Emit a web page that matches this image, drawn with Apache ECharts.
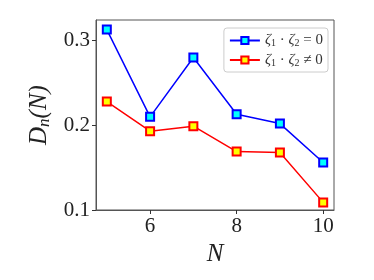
<!DOCTYPE html>
<html><head><meta charset="utf-8">
<script src="https://cdn.jsdelivr.net/npm/echarts@6/dist/echarts.min.js"></script>
<style>html,body{margin:0;padding:0;background:#fff}#c{width:374px;height:280px}</style>
</head><body><div id="c"></div>
<script>
var N = [5, 6, 7, 8, 9, 10];
var zeroVals = [0.313, 0.210, 0.280, 0.213, 0.202, 0.156];
var nonzeroVals = [0.228, 0.193, 0.199, 0.169, 0.168, 0.109];
var xTicks = [6, 8, 10];
var yTicks = [0.1, 0.2, 0.3];
var seriesNames = ['zero', 'nonzero'];

function pairs(xs, ys) { return xs.map(function (x, i) { return [x, ys[i]]; }); }
var serif = 'Liberation Serif';
var chart = echarts.init(document.getElementById('c'), null, {renderer: 'canvas'});
chart.setOption({
  animation: false,
  backgroundColor: '#fff',
  grid: {left: 96, right: 40, top: 20, bottom: 70, show: true, borderColor: '#555', borderWidth: 1},
  xAxis: {
    type: 'value', min: 4.75, max: 10.25,
    axisLine: {show: true, onZero: false, lineStyle: {color: '#555', width: 1}},
    axisTick: {show: true, customValues: xTicks, length: 4, lineStyle: {color: '#333'}},
    axisLabel: {customValues: xTicks, fontFamily: serif, fontSize: 21, color: '#222', margin: 6},
    splitLine: {show: false},
    name: 'N', nameLocation: 'middle', nameGap: 28,
    nameTextStyle: {fontFamily: serif, fontStyle: 'italic', fontSize: 25, color: '#222'}
  },
  yAxis: {
    type: 'value', min: 0.1, max: 0.3243,
    axisLine: {show: true, lineStyle: {color: '#555', width: 1}},
    axisTick: {show: true, customValues: yTicks, length: 4, lineStyle: {color: '#333'}},
    axisLabel: {customValues: yTicks, fontFamily: serif, fontSize: 21, color: '#222', margin: 6,
      formatter: function (v) { return v.toFixed(1); }},
    splitLine: {show: false},
    name: '{i|D}{s|n}{i|(N)}', nameLocation: 'middle', nameGap: 36, nameRotate: 90,
    nameTextStyle: {fontFamily: serif, fontSize: 25, color: '#222',
      rich: {
        i: {fontFamily: serif, fontStyle: 'italic', fontSize: 25, color: '#222'},
        s: {fontFamily: serif, fontStyle: 'italic', fontSize: 17, color: '#222', verticalAlign: 'bottom', padding: [9, 0, 0, 0]}
      }}
  },
  legend: {
    right: 46, top: 28, orient: 'vertical', itemGap: 4,
    itemWidth: 30, itemHeight: 9,
    backgroundColor: '#fff', borderColor: '#ccc', borderWidth: 1, borderRadius: 3,
    padding: [5, 5, 4, 5],
    data: seriesNames,
    formatter: function (name) {
      return name === 'zero' ? '{z|ζ}{s|1}{t| · }{z|ζ}{s|2}{t| = 0}' : '{z|ζ}{s|1}{t| · }{z|ζ}{s|2}{t| ≠ 0}';
    },
    textStyle: {
      fontFamily: serif, fontSize: 15, color: '#333',
      rich: {
        z: {fontFamily: serif, fontStyle: 'italic', fontSize: 15, color: '#333'},
        s: {fontFamily: serif, fontSize: 10, color: '#333', verticalAlign: 'bottom', padding: [6, 0, 0, 0]},
        t: {fontFamily: serif, fontSize: 15, color: '#333'}
      }
    }
  },
  series: [
    {name: 'zero', type: 'line', data: pairs(N, zeroVals), symbol: 'rect', symbolSize: 8,
      lineStyle: {color: '#0000ff', width: 1.5},
      itemStyle: {color: '#00ffff', borderColor: '#0000ff', borderWidth: 2}},
    {name: 'nonzero', type: 'line', data: pairs(N, nonzeroVals), symbol: 'rect', symbolSize: 8,
      lineStyle: {color: '#ff0000', width: 1.5},
      itemStyle: {color: '#ffff00', borderColor: '#ff0000', borderWidth: 2}}
  ]
});
</script></body></html>
